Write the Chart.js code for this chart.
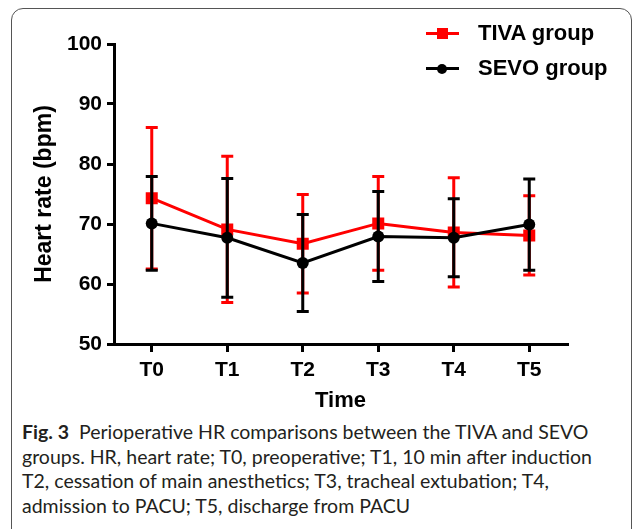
<!DOCTYPE html>
<html lang="en">
<head>
    <meta charset="UTF-8">
    <title>Perioperative HR</title>
    <script src="https://cdn.jsdelivr.net/npm/chart.js"></script>
    <style>
        body {
            margin: 0;
            background: #fff;
            font-family: "Liberation Sans", Arial, sans-serif;
        }
        .page {
            position: relative;
            width: 636px;
            height: 529px;
            overflow: hidden;
        }
        .frame {
            position: absolute;
            left: 11px;
            top: 8px;
            width: 619px;
            height: 540px;
            border: 1.5px solid #555;
            border-radius: 12px;
        }
        #hrChart {
            position: absolute;
            left: 0;
            top: 0;
        }
        .legend {
            position: absolute;
            left: 426px;
            top: 20px;
            font-weight: bold;
            font-size: 22px;
            color: #000;
        }
        .legend .item {
            position: relative;
            height: 35px;
            line-height: 26px;
            padding-left: 52px;
        }
        .legend .line {
            position: absolute;
            left: 0;
            top: 12px;
            width: 33px;
            height: 3px;
        }
        .legend .mark {
            position: absolute;
        }
        .caption {
            position: absolute;
            left: 22px;
            top: 420px;
            font-family: Lato, "Open Sans", sans-serif;
            font-size: 19.5px;
            line-height: 24.5px;
            color: #231f20;
            white-space: nowrap;
        }
        .caption b {
            font-weight: bold;
        }
    </style>
</head>
<body>
<div class="page">
    <div class="frame"></div>
    <canvas id="hrChart" width="636" height="420"></canvas>

    <!-- legend -->
    <div class="legend">
        <div class="item">
            <div class="line" style="background:#ff0000"></div>
            <div class="mark" style="left:11px;top:8px;width:11px;height:11px;background:#ff0000"></div>
            TIVA group
        </div>
        <div class="item">
            <div class="line" style="background:#000"></div>
            <div class="mark" style="left:11px;top:9px;width:10px;height:10px;border-radius:50%;background:#000"></div>
            SEVO group
        </div>
    </div>

    <div class="caption">
        <b>Fig. 3</b>&nbsp; Perioperative HR comparisons between the TIVA and SEVO<br>
        groups. HR, heart rate; T0, preoperative; T1, 10 min after induction<br>
        T2, cessation of main anesthetics; T3, tracheal extubation; T4,<br>
        admission to PACU; T5, discharge from PACU
    </div>
</div>

<script>
    // time points
    const timePoints = ["T0", "T1", "T2", "T3", "T4", "T5"];

    // mean heart rate (bpm) and SD
    const tivaMean = [74.3, 69.1, 66.7, 70.1, 68.6, 68.1];
    const tivaSD   = [11.8, 12.2, 8.2, 7.8, 9.1, 6.6];
    const sevoMean = [70.1, 67.7, 63.5, 67.9, 67.7, 69.9];
    const sevoSD   = [7.8, 9.9, 8.1, 7.5, 6.5, 7.6];

    const yTicks = [50, 60, 70, 80, 90, 100];

    const sdByDataset = [tivaSD, sevoSD];

    // draws mean +/- SD whiskers just before each dataset's line
    const errorBars = {
        id: "errorBars",
        beforeDatasetDraw(chart, args) {
            const ctx = chart.ctx;
            const yScale = chart.scales.y;
            const ds = chart.data.datasets[args.index];
            const sd = sdByDataset[args.index];
            ctx.save();
            ctx.strokeStyle = ds.borderColor;
            ctx.lineWidth = 3;
            args.meta.data.forEach((pt, i) => {
                const v = ds.data[i];
                const top = yScale.getPixelForValue(v + sd[i]);
                const bot = yScale.getPixelForValue(v - sd[i]);
                ctx.beginPath();
                ctx.moveTo(pt.x, top);
                ctx.lineTo(pt.x, bot);
                ctx.moveTo(pt.x - 6, top);
                ctx.lineTo(pt.x + 6, top);
                ctx.moveTo(pt.x - 6, bot);
                ctx.lineTo(pt.x + 6, bot);
                ctx.stroke();
            });
            ctx.restore();
        }
    };

    const axisFont = { family: "'Liberation Sans', Arial, sans-serif", size: 21, weight: "bold" };

    new Chart(document.getElementById("hrChart").getContext("2d"), {
        type: "line",
        data: {
            labels: timePoints,
            datasets: [
                {
                    label: "TIVA group",
                    data: tivaMean,
                    borderColor: "#ff0000",
                    backgroundColor: "#ff0000",
                    borderWidth: 3,
                    pointStyle: "rect",
                    pointRadius: 8.5,
                    pointBorderWidth: 0,
                    pointBackgroundColor: "#ff0000",
                    tension: 0,
                    order: 2
                },
                {
                    label: "SEVO group",
                    data: sevoMean,
                    borderColor: "#000000",
                    backgroundColor: "#000000",
                    borderWidth: 3,
                    pointStyle: "circle",
                    pointRadius: 6,
                    pointBorderWidth: 0,
                    pointBackgroundColor: "#000000",
                    tension: 0,
                    order: 1
                }
            ]
        },
        options: {
            responsive: false,
            animation: false,
            events: [],
            layout: { padding: { top: 44, right: 69, left: 0, bottom: 0 } },
            plugins: {
                legend: { display: false },
                tooltip: { enabled: false }
            },
            scales: {
                x: {
                    type: "category",
                    offset: true,
                    afterFit(scale) { scale.height = 76; },
                    border: { display: true, width: 3, color: "#000" },
                    grid: { display: true, drawOnChartArea: false, drawTicks: true, tickLength: 8, lineWidth: 3, color: "#000" },
                    ticks: { color: "#000", font: axisFont, padding: 6, maxRotation: 0 },
                    title: {
                        display: true,
                        text: "Time",
                        color: "#000",
                        font: { family: "'Liberation Sans', Arial, sans-serif", size: 22, weight: "bold" },
                        padding: { top: 0, bottom: 6 }
                    }
                },
                y: {
                    min: 50,
                    max: 100,
                    afterFit(scale) { scale.width = 114; },
                    afterBuildTicks(scale) { scale.ticks = yTicks.map(v => ({ value: v })); },
                    border: { display: true, width: 3, color: "#000" },
                    grid: { display: true, drawOnChartArea: false, drawTicks: true, tickLength: 7, lineWidth: 3, color: "#000" },
                    ticks: { color: "#000", font: axisFont, padding: 5 },
                    title: {
                        display: true,
                        text: "Heart rate (bpm)",
                        color: "#000",
                        font: { family: "'Liberation Sans', Arial, sans-serif", size: 23, weight: "bold" },
                        padding: { top: 31, bottom: 0 }
                    }
                }
            }
        },
        plugins: [errorBars]
    });
</script>
</body>
</html>
